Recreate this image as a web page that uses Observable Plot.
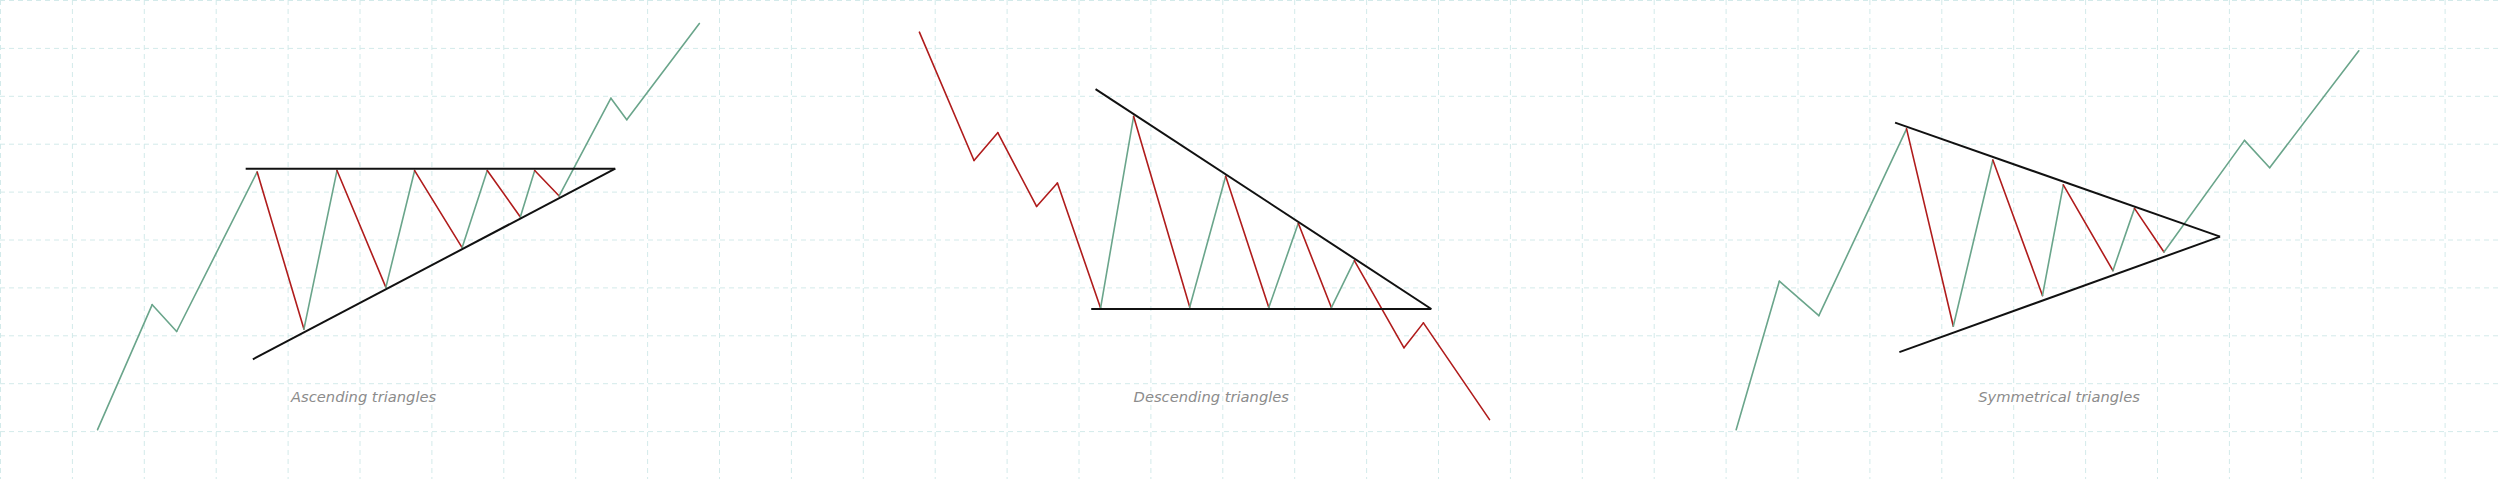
<!DOCTYPE html>
<html>
<head>
<meta charset="utf-8">
<script src="https://cdn.jsdelivr.net/npm/d3@7"></script>
<script src="https://cdn.jsdelivr.net/npm/@observablehq/plot@0.6"></script>
<style>
  html, body { margin: 0; padding: 0; background: #ffffff; overflow: hidden; }
  #chart svg { display: block; }
</style>
</head>
<body>
<div id="chart"></div>
<script>
// Units: x = grid columns, y = grid rows (price).

// Ascending triangle price path
const ascX = [1.35, 2.11, 2.45, 3.57, 4.22, 4.68, 5.36, 5.76, 6.42, 6.77, 7.23, 7.43, 7.77, 8.49, 8.71, 9.72];
const ascY = [1.04, 3.65, 3.09, 6.42, 3.14, 6.45, 4.01, 6.45, 4.84, 6.45, 5.48, 6.45, 5.92, 7.96, 7.51, 9.52];
const ascSeg = ["bull","bull","bull","bear","bull","bear","bull","bear","bull","bear","bull","bear","bull","bull","bull"];

// Descending triangle price path
const desX = [12.78, 13.54, 13.87, 14.41, 14.70, 15.30, 15.76, 16.54, 17.04, 17.64, 18.05, 18.51, 18.83, 19.52, 19.79, 20.71];
const desY = [9.34, 6.66, 7.24, 5.70, 6.19, 3.58, 7.58, 3.60, 6.33, 3.59, 5.35, 3.59, 4.57, 2.75, 3.27, 1.25];
const desSeg = ["bear","bear","bear","bear","bear","bull","bear","bull","bear","bull","bear","bull","bear","bear","bear"];

// Symmetrical triangle price path
const symX = [24.14, 24.74, 25.29, 26.51, 27.16, 27.71, 28.40, 28.69, 29.38, 29.68, 30.09, 31.21, 31.56, 32.80];
const symY = [1.04, 4.14, 3.42, 7.32, 3.20, 6.67, 3.84, 6.15, 4.36, 5.66, 4.75, 7.08, 6.51, 8.95];
const symSeg = ["bull","bull","bull","bear","bull","bear","bull","bear","bull","bear","bull","bull","bull"];

// Trend lines (resistance / support) of the three patterns
const lineX1 = [3.41, 3.51, 15.17, 15.23, 26.35, 26.41];
const lineY1 = [6.49, 2.51, 3.56, 8.15, 7.45, 2.66];
const lineX2 = [8.55, 8.55, 19.90, 19.90, 30.87, 30.87];
const lineY2 = [6.49, 6.49, 3.56, 3.56, 5.07, 5.07];

// Captions
const labelText = ["Ascending triangles", "Descending triangles", "Symmetrical triangles"];
const labelX = [5.05, 16.84, 28.63];
const labelY = [1.72, 1.72, 1.72];

// Grid
const gridCols = d3.range(0, 35);
const gridRows = d3.range(0, 11);

function segments(xs, ys, cls) {
  return cls.map((c, i) => ({x1: xs[i], y1: ys[i], x2: xs[i + 1], y2: ys[i + 1], c}));
}
const segs = [
  ...segments(ascX, ascY, ascSeg),
  ...segments(desX, desY, desSeg),
  ...segments(symX, symY, symSeg)
];
const trend = lineX1.map((x, i) => ({x1: x, y1: lineY1[i], x2: lineX2[i], y2: lineY2[i]}));
const labels = labelText.map((t, i) => ({t, x: labelX[i], y: labelY[i]}));

const chart = Plot.plot({
  width: 2500,
  height: 479,
  margin: 0,
  style: {background: "#ffffff"},
  x: {domain: [0, 2500 / 71.9], axis: null},
  y: {domain: [0, 479 / 47.9], axis: null},
  color: {domain: ["bull", "bear"], range: ["#6aa58b", "#b01c1c"]},
  marks: [
    Plot.gridX(gridCols, {stroke: "#d3eaea", strokeOpacity: 1, strokeWidth: 1, strokeDasharray: "5,4"}),
    Plot.gridY(gridRows, {stroke: "#d3eaea", strokeOpacity: 1, strokeWidth: 1, strokeDasharray: "5,4"}),
    Plot.link(segs, {x1: "x1", y1: "y1", x2: "x2", y2: "y2", stroke: "c", strokeWidth: 1.6, strokeLinecap: "round"}),
    Plot.link(trend, {x1: "x1", y1: "y1", x2: "x2", y2: "y2", stroke: "#111111", strokeWidth: 2}),
    Plot.text(labels, {x: "x", y: "y", text: "t", fill: "#8c8c8c", fontSize: 14.7, fontStyle: "italic", fontFamily: "DejaVu Sans", textAnchor: "middle"})
  ]
});
document.getElementById("chart").appendChild(chart);
</script>
</body>
</html>
